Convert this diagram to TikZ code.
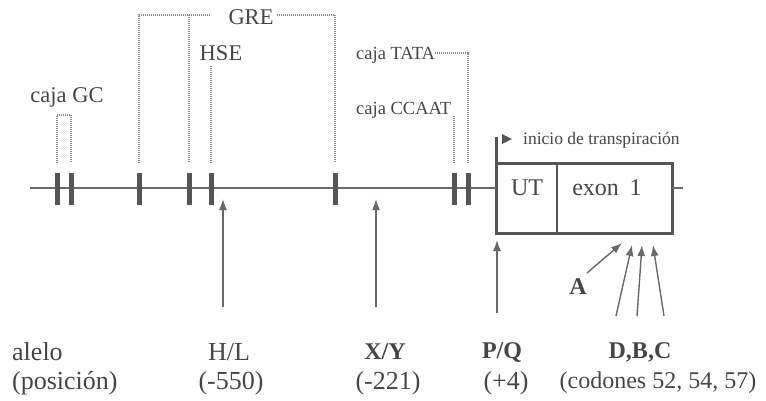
\documentclass[tikz,border=0pt]{standalone}
\usepackage{fontspec}
\setmainfont{Liberation Serif}
\usetikzlibrary{arrows.meta}
\definecolor{txtc}{RGB}{70,70,70}
\definecolor{linec}{RGB}{105,105,105}
\definecolor{boxc}{RGB}{85,85,85}
\definecolor{dotc}{RGB}{140,140,140}
\begin{document}
\begin{tikzpicture}[x=1pt,y=-1pt,
  lbl/.style={font=\fontsize{26}{28}\selectfont, text=txtc, inner sep=0pt},
  boxlbl/.style={font=\fontsize{24}{26}\selectfont, text=txtc, inner sep=0pt},
  toplbl/.style={font=\fontsize{22.5}{24}\selectfont, text=txtc, inner sep=0pt},
  midlbl/.style={font=\fontsize{18.5}{22}\selectfont, text=txtc, inner sep=0pt},
  boldlbl/.style={font=\fontsize{24}{26}\selectfont\bfseries, text=txtc, inner sep=0pt},
  smalllbl/.style={font=\fontsize{17.5}{20}\selectfont, text=txtc, inner sep=0pt},
  tickbar/.style={fill=boxc, draw=none, minimum width=5pt, minimum height=32pt, inner sep=0pt},
  dotline/.style={draw=dotc, line width=1.1pt, dash pattern=on 1pt off 1pt},
  mainline/.style={draw=linec, line width=2.5pt},
  arr/.style={draw=linec, line width=1.4pt, -{Latex[length=11pt,width=8pt]}},
  boxline/.style={draw=boxc, line width=3pt}
]
\useasboundingbox (0,0) rectangle (766,400);

% main line
\coordinate (lstart) at (30,188);
\coordinate (lend) at (683,188);
\node[boxline, minimum width=176pt, minimum height=70pt, inner sep=0pt, outer sep=0pt] (exonbox) at (584,198) {};
\draw[mainline] (lstart) -- (exonbox.west |- lstart);
\draw[mainline] (exonbox.east |- lend) -- (lend);

% ticks
\node[tickbar] (t1) at (57,189) {};
\node[tickbar] (t2) at (71,189) {};
\node[tickbar] (t3) at (139,189) {};
\node[tickbar] (t4) at (189,189) {};
\node[tickbar] (t5) at (211,189) {};
\node[tickbar] (t6) at (335,189) {};
\node[tickbar] (t7) at (454,189) {};
\node[tickbar] (t8) at (468,189) {};

% caja GC
\node[toplbl] (gc) at (67,97) {caja GC};
\draw[dotline] ([yshift=10pt]t1.north) -- (t1.north |- 0,115) -- (t2.north |- 0,115) -- ([yshift=10pt]t2.north);

% GRE
\node[toplbl] (gre) at (251,17) {GRE};
\draw[dotline] (210,15) -- (t3.north |- 0,15) -- ([yshift=10pt]t3.north);
\draw[dotline] (t4.north |- 0,15) -- ([yshift=10pt]t4.north);
\draw[dotline] (277,15) -- (t6.north |- 0,15) -- ([yshift=10pt]t6.north);

% HSE
\node[toplbl] (hse) at (221,53) {HSE};
\draw[dotline] (t5.north |- 0,66) -- ([yshift=10pt]t5.north);

% TATA / CCAAT
\node[midlbl, anchor=west] (tata) at (356,55) {caja TATA};
\draw[dotline] (tata.east |- 0,53) -- (t8.north |- 0,53) -- ([yshift=10pt]t8.north);
\node[midlbl, anchor=west] (ccaat) at (356,110) {caja CCAAT};
\draw[dotline] (t7.north |- 0,116) -- ([yshift=10pt]t7.north);

% exon box content
\draw[draw=boxc, line width=1.5pt] (557,163) -- (557,233);
\node[boxlbl] (ut) at (527,188) {UT};
\node[boxlbl] (exon) at (607,188) {exon\hspace{0.45em}1};

% start of transcription
\coordinate (startTop) at (496,137);
\coordinate (boxTL) at (496,164);
\draw[boxline] (boxTL) -- (startTop);
\fill[boxc] (502,134) -- (512,139) -- (502,144) -- cycle;
\node[smalllbl, anchor=west] (inicio) at (523,140) {inicio de transpiración};

% arrows
\coordinate (hlTail) at (223,307); \coordinate (hlTip) at (223,199);
\draw[arr] (hlTail) -- (hlTip);
\coordinate (xyTail) at (376,307); \coordinate (xyTip) at (376,199);
\draw[arr] (xyTail) -- (xyTip);
\coordinate (pqTail) at (497,313); \coordinate (pqTip) at (497,240);
\draw[arr] (pqTail) -- (pqTip);
\node[boldlbl] (alab) at (578,287) {A};
\coordinate (aTail) at (587,273);
\coordinate (aTip) at (622,243);
\draw[arr] (aTail) -- (aTip);
\coordinate (dTail) at (616,316); \coordinate (dTip) at (632,245);
\coordinate (bTail) at (637,316); \coordinate (bTip) at (642,245);
\coordinate (cTail) at (664,316); \coordinate (cTip) at (653,245);
\draw[arr] (dTail) -- (dTip);
\draw[arr] (bTail) -- (bTip);
\draw[arr] (cTail) -- (cTip);

% bottom labels
\node[lbl, anchor=west] (alelo) at (12,352) {alelo};
\node[lbl, anchor=west] (pos) at (12,383) {(posición)};
\node[lbl] (hl) at (229,352) {H/L};
\node[lbl] (hlpos) at (231,383) {(-550)};
\node[boldlbl] (xy) at (385,352) {X/Y};
\node[lbl] (xypos) at (388,383) {(-221)};
\node[boldlbl] (pq) at (502,352) {P/Q};
\node[lbl] (pqpos) at (506,383) {(+4)};
\node[boldlbl] (dbc) at (640,352) {D,B,C};
\node[lbl, font=\fontsize{24}{26}\selectfont] (dbcpos) at (658,383) {(codones 52, 54, 57)};
\end{tikzpicture}
\end{document}
